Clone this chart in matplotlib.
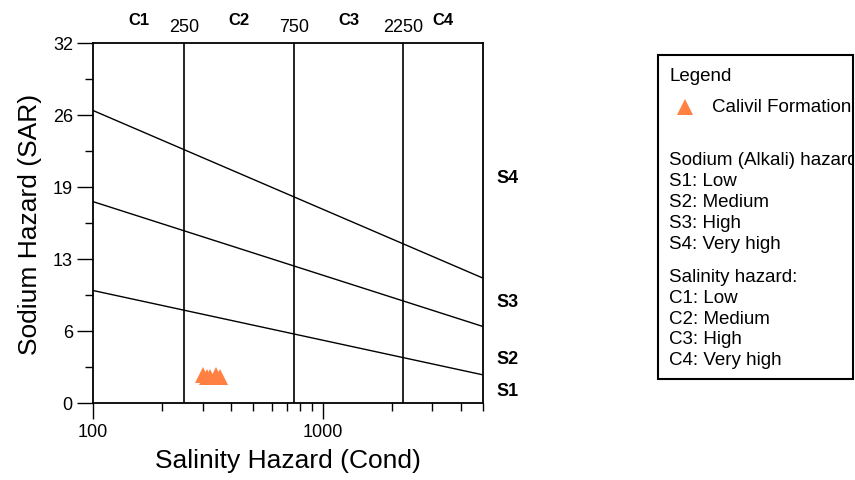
import matplotlib
matplotlib.use("Agg")
import matplotlib.pyplot as plt
import numpy as np
from matplotlib.lines import Line2D
from matplotlib.patches import Rectangle
from matplotlib.ticker import FixedLocator, FixedFormatter, LogLocator, NullFormatter
from matplotlib.transforms import Bbox, TransformedBbox

plt.rcParams['font.family'] = ['Liberation Sans', 'DejaVu Sans']

# Sample data: conductivity (uS/cm) and sodium adsorption ratio
cond = [301, 314, 323, 342, 358]
sar = [2.5, 2.3, 2.35, 2.5, 2.35]
series_name = "Calivil Formation"
marker_color = "#FF8040"

# Salinity class boundaries and labels
c_bounds = [250, 750, 2250]
c_labels = ["C1", "C2", "C3", "C4"]
x_range = [100, 5000]
x_ticks = [100, 1000]
x_tick_labels = ["100", "1000"]

# Sodium hazard boundary lines: SAR at conductivity 100 and 5000
s_lines_left = [10.0, 17.9, 26.0]
s_lines_right = [2.5, 6.8, 11.1]
s_labels = ["S1", "S2", "S3", "S4"]
s_label_pos = [1.15, 4.0, 9.0, 20.0]

# Y axis ticks
y_ticks = [0, 6.4, 12.8, 19.2, 25.6, 32]
y_tick_labels = ["0", "6", "13", "19", "26", "32"]
y_minor = [3.2, 9.6, 16.0, 22.4, 28.8]

legend_lines = [
    "Sodium (Alkali) hazard:",
    "S1: Low",
    "S2: Medium",
    "S3: High",
    "S4: Very high",
    None,
    "Salinity hazard:",
    "C1: Low",
    "C2: Medium",
    "C3: High",
    "C4: Very high",
]

W, H = 855, 481
fig = plt.figure(figsize=(W / 100, H / 100), dpi=100)
ax = fig.add_axes([93 / W, 1 - 404 / H, 390 / W, 360 / H])

ax.set_xscale("log")
ax.set_xlim(*x_range)
ax.set_ylim(0, 32)

# class boundaries
for b in c_bounds:
    ax.axvline(b, color="black", lw=1.2)

# sodium hazard lines
for yl, yr in zip(s_lines_left, s_lines_right):
    ax.plot(x_range, [yl, yr], color="black", lw=1.0)

# data
ax.plot(cond, sar, linestyle="none", marker="^", ms=11,
        color=marker_color, markeredgewidth=0, clip_on=False, zorder=5)

# ticks
ax.yaxis.set_major_locator(FixedLocator(y_ticks))
ax.yaxis.set_major_formatter(FixedFormatter(y_tick_labels))
ax.yaxis.set_minor_locator(FixedLocator(y_minor))
ax.xaxis.set_major_locator(FixedLocator(x_ticks))
ax.xaxis.set_major_formatter(FixedFormatter(x_tick_labels))
ax.xaxis.set_minor_locator(LogLocator(base=10, subs=np.arange(2, 10), numticks=20))
ax.xaxis.set_minor_formatter(NullFormatter())
ax.tick_params(axis="both", which="major", direction="out", length=11.5,
               width=1.0, labelsize=13, pad=3)
ax.tick_params(axis="both", which="minor", direction="out", length=6,
               width=1.0)
ax.tick_params(top=False, right=False, which="both")
for sp in ax.spines.values():
    sp.set_linewidth(1.3)

ax.set_xlabel("Salinity Hazard (Cond)", fontsize=19, labelpad=6)
ax.set_ylabel("Sodium Hazard (SAR)", fontsize=19, labelpad=8)

# top labels: boundary values and salinity classes
for b in c_bounds:
    ax.annotate(str(b), xy=(b, 1), xycoords=("data", "axes fraction"),
                xytext=(0, 12), textcoords="offset points",
                ha="center", va="center", fontsize=13)
edges = [x_range[0]] + c_bounds + [x_range[1]]
for i, lab in enumerate(c_labels):
    xm = np.sqrt(edges[i] * edges[i + 1])
    ax.annotate(lab, xy=(xm, 1), xycoords=("data", "axes fraction"),
                xytext=(0, 17), textcoords="offset points",
                ha="center", va="center", fontsize=12, fontweight="bold")

# right labels: sodium classes
for lab, yv in zip(s_labels, s_label_pos):
    ax.annotate(lab, xy=(1, yv), xycoords=("axes fraction", "data"),
                xytext=(10, 0), textcoords="offset points",
                ha="left", va="center", fontsize=13, fontweight="bold")

# legend box
bx0, bx1, by0, by1 = 658, 853, 56, 380
box = Rectangle((bx0 / W, 1 - by1 / H), (bx1 - bx0) / W, (by1 - by0) / H,
                transform=fig.transFigure, fill=False, edgecolor="black",
                lw=1.5, zorder=3)
fig.add_artist(box)
clip = TransformedBbox(Bbox.from_extents(bx0 / W, 1 - by1 / H, bx1 / W, 1 - by0 / H),
                       fig.transFigure)

def box_text(x, y, s):
    t = fig.text(x / W, 1 - y / H, s, fontsize=13.5, ha="left", va="center")
    t.set_clip_box(clip)
    t.set_clip_on(True)
    return t

box_text(669, 77, "Legend")
fig.add_artist(Line2D([685 / W], [1 - 108 / H], transform=fig.transFigure,
                      linestyle="none", marker="^", ms=11,
                      color=marker_color, markeredgewidth=0))
box_text(712, 108, series_name)

y = 161
for line in legend_lines:
    if line is None:
        y += 12.5
        continue
    box_text(669, y, line)
    y += 20.8

fig.savefig("out.png", dpi=100)
